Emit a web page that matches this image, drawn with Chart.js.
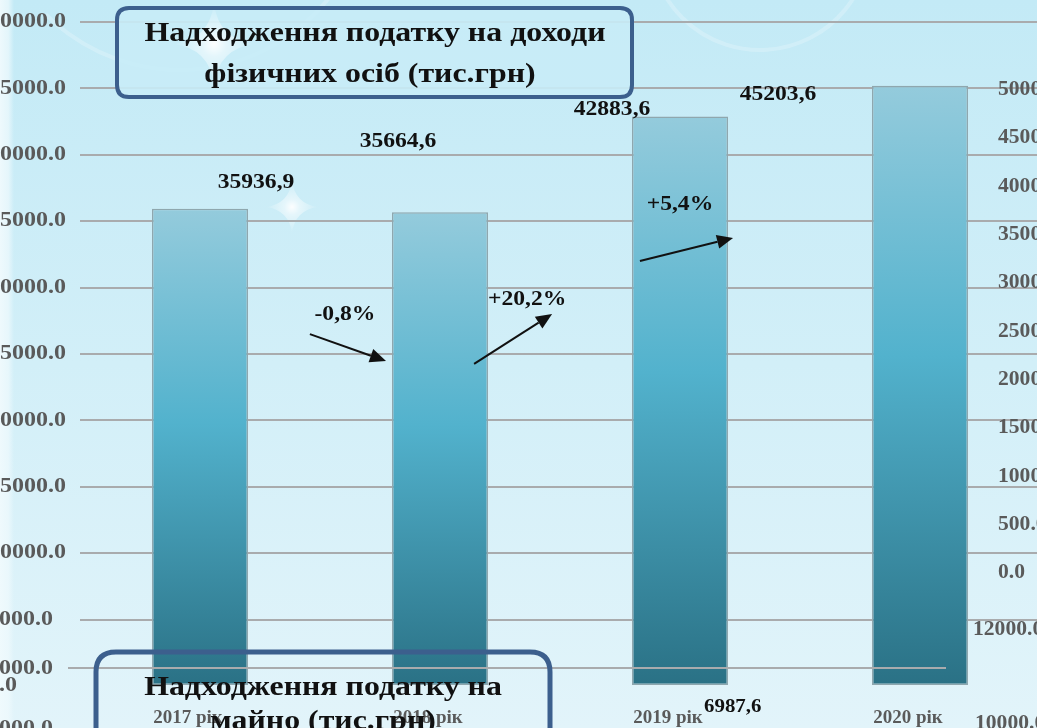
<!DOCTYPE html>
<html>
<head>
<meta charset="utf-8">
<script src="https://cdn.jsdelivr.net/npm/chart.js@4.4.1/dist/chart.umd.min.js"></script>
<style>
html,body{margin:0;padding:0;overflow:hidden;background:#d3eff8;}
#wrap{position:relative;width:1037px;height:728px;overflow:hidden;}
#box{position:absolute;left:0;top:0;width:1080px;height:728px;}
</style>
</head>
<body>
<div id="wrap"><div id="box"><canvas id="c"></canvas></div></div>
<script>
// ---- data ----
const categories = ['2017 рік', '2018 рік', '2019 рік', '2020 рік'];
const incomeTax = [35936.9, 35664.6, 42883.6, 45203.6];
const valueLabels = ['35936,9', '35664,6', '42883,6', '45203,6'];
const changeLabels = ['-0,8%', '+20,2%', '+5,4%'];
const yTicks = [0, 5000, 10000, 15000, 20000, 25000, 30000, 35000, 40000, 45000, 50000];
const rightTicks = [0, 500, 1000, 1500, 2000, 2500, 3000, 3500, 4000, 4500, 5000];
const propertyValue = '6987,6';
const titleTop = ['Надходження податку на доходи', 'фізичних осіб (тис.грн)'];
const titleBottom = ['Надходження податку на', 'майно (тис.грн)'];

// ---- layout helpers (annotation placement, not data) ----
const SERIF = '"Liberation Serif", "DejaVu Serif", serif';
const STRETCH = 1.18;
const labelOffsets = [[56, -26], [-42, -71], [-68, -7], [-142, 9]];
// change labels and arrows in (category index, value) units
const changePos = [[0.604, 27950], [1.363, 29080], [2.0, 36220]];
const arrows = [
  [[0.458, 26500], [0.775, 24470]],
  [[1.142, 24250], [1.467, 28010]],
  [[1.833, 32000], [2.221, 33740]]
];

function barGradient(ctx) {
  const chart = ctx.chart;
  const ys = chart.scales.y;
  if (!chart.chartArea || !ys) return '#4fb1cc';
  const v = ctx.raw;
  const top = ys.getPixelForValue(v);
  const base = ys.getPixelForValue(0);
  const g = chart.ctx.createLinearGradient(0, top, 0, base);
  g.addColorStop(0, '#94cbdc');
  g.addColorStop(0.45, '#52b2cd');
  g.addColorStop(1, '#2a7185');
  return g;
}

function sText(c, t, x, y, sx) {
  c.save();
  c.translate(x, y);
  c.scale(sx || STRETCH, 1);
  c.fillText(t, 0, 0);
  c.restore();
}

function sparkle(c, x, y, r) {
  const g = c.createRadialGradient(x, y, 0, x, y, r);
  g.addColorStop(0, 'rgba(255,255,255,0.95)');
  g.addColorStop(0.3, 'rgba(255,255,255,0.5)');
  g.addColorStop(1, 'rgba(255,255,255,0)');
  c.save();
  c.fillStyle = g;
  c.beginPath();
  c.moveTo(x, y - r);
  c.quadraticCurveTo(x + r * 0.12, y - r * 0.12, x + r, y);
  c.quadraticCurveTo(x + r * 0.12, y + r * 0.12, x, y + r);
  c.quadraticCurveTo(x - r * 0.12, y + r * 0.12, x - r, y);
  c.quadraticCurveTo(x - r * 0.12, y - r * 0.12, x, y - r);
  c.fill();
  c.restore();
}

function roundRect(c, x, y, w, h, r) {
  c.beginPath();
  c.moveTo(x + r, y);
  c.lineTo(x + w - r, y);
  c.quadraticCurveTo(x + w, y, x + w, y + r);
  c.lineTo(x + w, y + h - r);
  c.quadraticCurveTo(x + w, y + h, x + w - r, y + h);
  c.lineTo(x + r, y + h);
  c.quadraticCurveTo(x, y + h, x, y + h - r);
  c.lineTo(x, y + r);
  c.quadraticCurveTo(x, y, x + r, y);
  c.closePath();
}

function arrow(c, x1, y1, x2, y2) {
  const a = Math.atan2(y2 - y1, x2 - x1);
  const hl = 16, hw = 7;
  const bx = x2 - hl * Math.cos(a), by = y2 - hl * Math.sin(a);
  c.save();
  c.strokeStyle = '#111';
  c.fillStyle = '#111';
  c.lineWidth = 2;
  c.beginPath();
  c.moveTo(x1, y1);
  c.lineTo(bx, by);
  c.stroke();
  c.beginPath();
  c.moveTo(x2, y2);
  c.lineTo(bx + hw * Math.sin(a), by - hw * Math.cos(a));
  c.lineTo(bx - hw * Math.sin(a), by + hw * Math.cos(a));
  c.closePath();
  c.fill();
  c.restore();
}

const bgPlugin = {
  id: 'bg',
  beforeDraw(chart) {
    const c = chart.ctx;
    const W = chart.width, H = chart.height;
    c.save();
    const g = c.createLinearGradient(0, 0, 0, H);
    g.addColorStop(0, '#c3eaf6');
    g.addColorStop(0.5, '#d2eff8');
    g.addColorStop(1, '#e2f4fa');
    c.fillStyle = g;
    c.fillRect(0, 0, W, H);
    const g2 = c.createLinearGradient(0, 0, 14, 0);
    g2.addColorStop(0, 'rgba(240,250,253,0.95)');
    g2.addColorStop(0.6, 'rgba(240,250,253,0.7)');
    g2.addColorStop(1, 'rgba(240,250,253,0)');
    c.fillStyle = g2;
    c.fillRect(0, 0, 14, H);
    // faint swirls
    c.strokeStyle = 'rgba(255,255,255,0.22)';
    c.lineWidth = 4;
    c.beginPath();
    c.arc(180, -120, 190, 0.2 * Math.PI, 0.75 * Math.PI);
    c.stroke();
    c.beginPath();
    c.arc(760, -60, 110, 0.1 * Math.PI, 0.9 * Math.PI);
    c.stroke();
    c.restore();
    sparkle(c, 292, 207, 26);
    sparkle(c, 214, 44, 40);
  }
};

const overlayPlugin = {
  id: 'overlay',
  afterDraw(chart) {
    const c = chart.ctx;
    const xs = chart.scales.x, ys = chart.scales.y, y1 = chart.scales.y1;
    const meta = chart.getDatasetMeta(0);
    c.save();
    // stray gridline of the overlapped property-tax chart
    c.strokeStyle = '#a9abad';
    c.lineWidth = 2;
    c.beginPath();
    c.moveTo(68, 668);
    c.lineTo(946, 668);
    c.stroke();

    // left value-axis labels (positions from the y scale)
    c.font = 'bold 20px ' + SERIF;
    c.fillStyle = '#5a5a5a';
    c.textAlign = 'right';
    c.textBaseline = 'middle';
    yTicks.forEach(v => {
      if (v === 0) return;
      sText(c, v.toFixed(1), v === 5000 ? 53 : 66, ys.getPixelForValue(v), 1.2);
    });
    sText(c, '14000.0', 53, 669, 1.2);
    sText(c, '0.0', 17, 686, 1.2);
    sText(c, '12000.0', 53, 729, 1.2);

    // right-side axis labels of the overlapped chart (via y1 scale)
    c.textAlign = 'left';
    rightTicks.forEach(v => {
      sText(c, v.toFixed(1), 998, y1.getPixelForValue(v), 1.08);
    });
    sText(c, '12000.0', 973, 630, 1.08);
    sText(c, '10000.0', 975, 724, 1.08);

    // value labels
    c.fillStyle = '#111';
    c.textAlign = 'center';
    c.font = 'bold 20px ' + SERIF;
    meta.data.forEach((bar, i) => {
      sText(c, valueLabels[i], bar.x + labelOffsets[i][0], bar.y + labelOffsets[i][1]);
    });

    // change arrows and labels
    changeLabels.forEach((t, i) => {
      sText(c, t, xs.getPixelForValue(changePos[i][0]), ys.getPixelForValue(changePos[i][1]));
      const a = arrows[i];
      arrow(c, xs.getPixelForValue(a[0][0]), ys.getPixelForValue(a[0][1]),
               xs.getPixelForValue(a[1][0]), ys.getPixelForValue(a[1][1]));
    });

    // property tax value
    c.textAlign = 'left';
    c.font = 'bold 19px ' + SERIF;
    sText(c, propertyValue, 704, 707, 1.1);

    // top title box
    c.fillStyle = 'rgba(200,236,247,0.9)';
    roundRect(c, 117, 8, 515, 89, 12);
    c.fill();
    sparkle(c, 214, 44, 40);
    c.strokeStyle = '#3c5f8d';
    c.lineWidth = 4;
    roundRect(c, 117, 8, 515, 89, 12);
    c.stroke();
    c.fillStyle = '#111';
    c.textAlign = 'center';
    c.font = 'bold 27px ' + SERIF;
    sText(c, titleTop[0], 375, 34);
    sText(c, titleTop[1], 370, 75);

    // bottom title box (transparent)
    c.strokeStyle = '#3c5f8d';
    c.lineWidth = 5;
    roundRect(c, 96, 652, 454, 110, 20);
    c.stroke();
    c.fillStyle = '#111';
    c.font = 'bold 27px ' + SERIF;
    sText(c, titleBottom[0], 323, 688);
    sText(c, titleBottom[1], 323, 722);
    c.restore();
  }
};

new Chart(document.getElementById('c'), {
  type: 'bar',
  data: {
    labels: categories,
    datasets: [{
      data: incomeTax,
      backgroundColor: barGradient,
      borderColor: '#8fa7ae',
      borderWidth: 1.5,
      borderSkipped: false,
      categoryPercentage: 1,
      barPercentage: 0.4
    }]
  },
  options: {
    responsive: true,
    maintainAspectRatio: false,
    animation: false,
    devicePixelRatio: 1,
    layout: { padding: { top: 22, right: 40, bottom: 0, left: 0 } },
    plugins: { legend: { display: false }, tooltip: { enabled: false } },
    scales: {
      x: {
        grid: { display: false, drawTicks: false },
        border: { display: false },
        ticks: {
          font: { family: SERIF, size: 19, weight: 'bold' },
          color: '#5a5a5a',
          padding: 21,
          labelOffset: -12,
          maxRotation: 0
        },
        afterFit(s) { s.height = 42; s.paddingLeft = 0; s.paddingRight = 0; }
      },
      y: {
        min: 0,
        max: 50000,
        afterBuildTicks(s) { s.ticks = yTicks.map(v => ({ value: v })); },
        grid: {
          color: ctx => (ctx.tick && ctx.tick.value === 0 ? 'rgba(0,0,0,0)' : '#a9abad'),
          lineWidth: 2,
          drawTicks: false
        },
        border: { display: false },
        ticks: { display: false },
        afterFit(s) { s.width = 80; s.paddingTop = 0; s.paddingBottom = 0; }
      },
      y1: {
        display: false,
        position: 'right',
        min: -1170,
        max: 5704
      }
    }
  },
  plugins: [bgPlugin, overlayPlugin]
});
</script>
</body>
</html>
